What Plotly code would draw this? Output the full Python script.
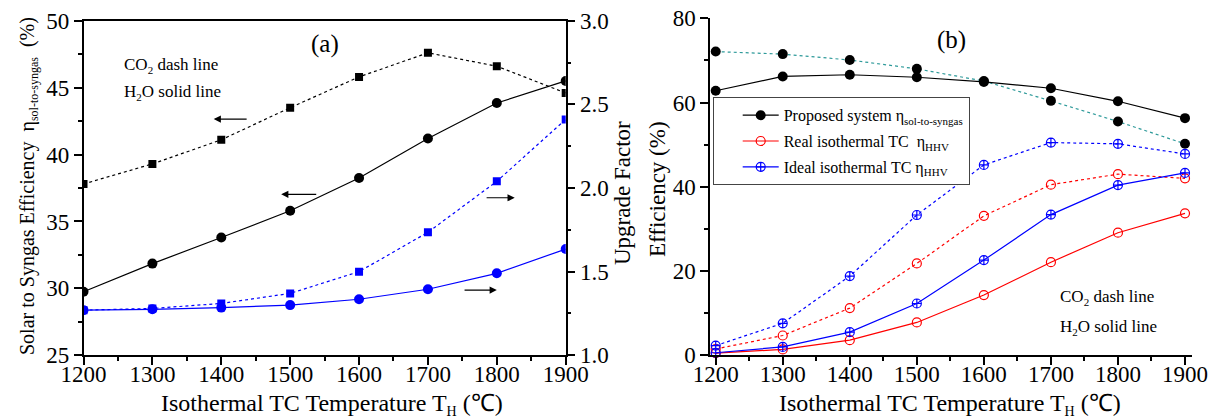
import plotly.graph_objects as go

# ---------------- data ----------------
temps = [1200, 1300, 1400, 1500, 1600, 1700, 1800, 1900]

# panel (a): solar-to-syngas efficiency (%) - left axis
eff_co2_a = [37.8, 39.3, 41.1, 43.5, 45.8, 47.6, 46.6, 44.6]
eff_h2o_a = [29.75, 31.85, 33.8, 35.8, 38.25, 41.2, 43.85, 45.5]
# panel (a): upgrade factor - right axis
uf_co2 = [1.27, 1.28, 1.31, 1.37, 1.50, 1.735, 2.04, 2.41]
uf_h2o = [1.27, 1.275, 1.285, 1.30, 1.335, 1.395, 1.49, 1.635]

# panel (b): efficiency (%)
prop_co2 = [72.1, 71.5, 70.1, 68.0, 65.1, 60.4, 55.5, 50.2]
prop_h2o = [62.8, 66.2, 66.6, 66.0, 64.9, 63.4, 60.3, 56.3]
ideal_co2 = [2.3, 7.6, 18.8, 33.3, 45.2, 50.5, 50.2, 47.8]
ideal_h2o = [0.6, 2.0, 5.5, 12.3, 22.6, 33.4, 40.4, 43.3]
real_co2 = [1.5, 4.7, 11.2, 21.8, 33.1, 40.5, 43.0, 42.0]
real_h2o = [0.5, 1.4, 3.6, 7.8, 14.3, 22.1, 29.1, 33.7]

SUBS = "<sub><span style='font-size:11px'>%s</span></sub>"
legend_names = ["Proposed system η" + SUBS % "sol-to-syngas",
                "Real isothermal TC  η" + SUBS % "HHV",
                "Ideal isothermal TC η" + SUBS % "HHV"]

W, H = 1214, 420
FONT = "Liberation Serif, Times New Roman, serif"
DASH = "3px,3px"

fig = go.Figure()

# ---------- panel (a) ----------
fig.add_trace(go.Scatter(x=temps, y=eff_co2_a, mode="lines+markers", xaxis="x", yaxis="y",
                         line=dict(color="black", width=1.2, dash=DASH),
                         marker=dict(symbol="square", size=8, color="black"), showlegend=False))
fig.add_trace(go.Scatter(x=temps, y=eff_h2o_a, mode="lines+markers", xaxis="x", yaxis="y",
                         line=dict(color="black", width=1.2),
                         marker=dict(symbol="circle", size=10, color="black"), showlegend=False))
fig.add_trace(go.Scatter(x=temps, y=uf_co2, mode="lines+markers", xaxis="x", yaxis="y2",
                         line=dict(color="#0000ff", width=1.2, dash=DASH),
                         marker=dict(symbol="square", size=8, color="#0000ff"), showlegend=False))
fig.add_trace(go.Scatter(x=temps, y=uf_h2o, mode="lines+markers", xaxis="x", yaxis="y2",
                         line=dict(color="#0000ff", width=1.2),
                         marker=dict(symbol="circle", size=10, color="#0000ff"), showlegend=False))

# ---------- panel (b) ----------
fig.add_trace(go.Scatter(x=temps, y=prop_co2, mode="lines+markers", xaxis="x2", yaxis="y3",
                         line=dict(color="#2e9a9a", width=1.2, dash=DASH), cliponaxis=False,
                         marker=dict(symbol="circle", size=10, color="black"), showlegend=False))
fig.add_trace(go.Scatter(x=temps, y=prop_h2o, mode="lines+markers", xaxis="x2", yaxis="y3",
                         name=legend_names[0], legendgroup="g1", cliponaxis=False,
                         line=dict(color="black", width=1.2),
                         marker=dict(symbol="circle", size=10, color="black")))
fig.add_trace(go.Scatter(x=temps, y=real_co2, mode="lines+markers", xaxis="x2", yaxis="y3",
                         line=dict(color="#ff0000", width=1.2, dash=DASH), cliponaxis=False,
                         marker=dict(symbol="circle-open", size=9, color="#ff0000", line=dict(width=1.2)),
                         showlegend=False))
fig.add_trace(go.Scatter(x=temps, y=real_h2o, mode="lines+markers", xaxis="x2", yaxis="y3",
                         name=legend_names[1], legendgroup="g2", cliponaxis=False,
                         line=dict(color="#ff0000", width=1.2),
                         marker=dict(symbol="circle-open", size=9, color="#ff0000", line=dict(width=1.2))))
fig.add_trace(go.Scatter(x=temps, y=ideal_co2, mode="lines+markers", xaxis="x2", yaxis="y3",
                         line=dict(color="#0000ff", width=1.2, dash=DASH), cliponaxis=False,
                         marker=dict(symbol="circle-cross-open", size=9, color="#0000ff", line=dict(width=1.2)),
                         showlegend=False))
fig.add_trace(go.Scatter(x=temps, y=ideal_h2o, mode="lines+markers", xaxis="x2", yaxis="y3",
                         name=legend_names[2], legendgroup="g3", cliponaxis=False,
                         line=dict(color="#0000ff", width=1.2),
                         marker=dict(symbol="circle-cross-open", size=9, color="#0000ff", line=dict(width=1.2))))

tickfont = dict(family=FONT, size=23, color="black")
minor_style = dict(ticks="outside", ticklen=4, tickcolor="black", tickwidth=1.5)
common_x = dict(showline=True, linecolor="black", linewidth=1.5, ticks="outside", ticklen=8,
                tickwidth=1.5, tickcolor="black", dtick=100, tick0=1200, showgrid=False,
                zeroline=False, tickfont=tickfont, automargin=False, ticklabelstandoff=-11,
                minor=dict(minor_style, dtick=50))
common_y = dict(showline=True, linecolor="black", linewidth=1.5, ticks="outside", ticklen=8,
                tickwidth=1.5, tickcolor="black", showgrid=False, zeroline=False,
                tickfont=tickfont, automargin=False)


def px_x(p):
    return p / W


def px_y(p):
    return 1 - p / H


fig.update_layout(
    width=W, height=H, margin=dict(l=0, r=0, t=0, b=0, autoexpand=False),
    paper_bgcolor="white", plot_bgcolor="white",
    font=dict(family=FONT, size=22, color="black"),
    xaxis=dict(common_x, domain=[px_x(83.5), px_x(565.7)], range=[1200, 1900], anchor="y",
               mirror=True),
    yaxis=dict(common_y, domain=[px_y(355.3), px_y(20.7)], range=[25, 50], dtick=5, anchor="x",
               minor=dict(minor_style, dtick=2.5)),
    yaxis2=dict(common_y, overlaying="y", side="right", anchor="x", range=[1, 3], dtick=0.5,
                tickformat=".1f", minor=dict(minor_style, dtick=0.25)),
    xaxis2=dict(common_x, domain=[px_x(710), px_x(1191.7)], range=[1191.5, 1910], anchor="y3"),
    yaxis3=dict(common_y, domain=[px_y(355.3), px_y(18.3)], range=[0, 80], dtick=20, anchor="x2",
                minor=dict(minor_style, dtick=10)),
    legend=dict(x=px_x(712.7), y=px_y(97.3), xanchor="left", yanchor="top",
                bordercolor="#444", borderwidth=1, bgcolor="white", itemwidth=36, indentation=24,
                font=dict(family=FONT, size=16, color="black"), tracegroupgap=2),
)

ann = []


def text_ann(txt, x, y, size, xanchor="center", angle=0):
    ann.append(dict(text=txt, x=px_x(x), y=px_y(y), xref="paper", yref="paper", showarrow=False,
                    xanchor=xanchor, yanchor="middle", textangle=angle,
                    font=dict(family=FONT, size=size, color="black")))


nb = "\u00a0"
text_ann("Solar to Syngas Efficiency" + nb * 2 + "η<sub><span style='font-size:12px'>sol-to-syngas</span></sub>"
         + nb * 2 + "(%)", 28, 186, 20, angle=-90)
text_ann("Upgrade Factor", 623, 193, 23, angle=-90)
text_ann("Efficiency (%)", 658, 189, 23, angle=-90)
text_ann("Isothermal TC Temperature T<sub><span style='font-size:14px'>H</span></sub> (℃)", 332, 404, 24)
text_ann("Isothermal TC Temperature T<sub><span style='font-size:14px'>H</span></sub> (℃)", 950, 404, 24)
text_ann("(a)", 325, 44, 25)
text_ann("(b)", 951, 40, 25)
text_ann("CO<sub><span style='font-size:11px'>2</span></sub> dash line", 122, 65, 17, xanchor="left")
text_ann("H<sub><span style='font-size:11px'>2</span></sub>O solid line", 122, 92, 17, xanchor="left")
text_ann("CO<sub><span style='font-size:11px'>2</span></sub> dash line", 1058, 297, 17, xanchor="left")
text_ann("H<sub><span style='font-size:11px'>2</span></sub>O solid line", 1058, 327, 17, xanchor="left")

# arrows in panel (a), placed in data coordinates
arrows = [  # (head_x, tail_x, y on left axis)
    (1389, 1439, 42.65),
    (1487, 1540, 37.03),
    (1826, 1783, 36.77),
    (1800, 1751, 29.87),
]
for hx, tx, yy in arrows:
    ann.append(dict(x=hx, y=yy, ax=tx, ay=yy, xref="x", yref="y", axref="x", ayref="y",
                    text="", showarrow=True, arrowhead=2, arrowsize=1.2, arrowwidth=1.2,
                    arrowcolor="black"))

fig.update_layout(annotations=ann)
fig.write_html("out.html")
